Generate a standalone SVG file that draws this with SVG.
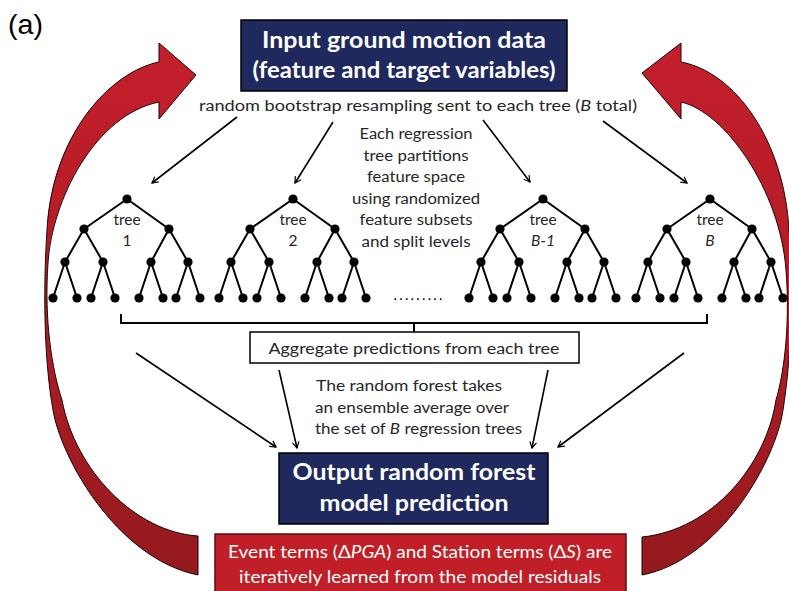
<svg xmlns="http://www.w3.org/2000/svg" width="789" height="591" viewBox="0 0 789 591">
<defs>
<style>
.box-navy{fill:#1f295d;stroke:#000;stroke-width:1.5}
.box-white{fill:#fff;stroke:#000;stroke-width:1.5}
.box-red{fill:#c01f28;stroke:#5a0d10;stroke-width:1.5}
.t-title{font-family:Lato,"Open Sans",sans-serif;font-weight:bold;font-size:22px;fill:#fff;text-anchor:middle}
.t-body{font-family:Lato,"Open Sans",sans-serif;font-size:15.5px;fill:#262626;text-anchor:middle}
.t-red{font-family:Lato,"Open Sans",sans-serif;font-size:17px;fill:#fff;text-anchor:start}
.edge{stroke:#000;stroke-width:2;fill:none}
.node{fill:#000}
.conn{stroke:#000;stroke-width:1.6;fill:none;marker-end:url(#arr)}
.brk{stroke:#000;stroke-width:2;fill:none}
.block{fill:url(#redgrad);stroke:#1a0506;stroke-width:1}
</style>
<marker id="arr" viewBox="0 0 12 12" refX="10" refY="6" markerWidth="8" markerHeight="8" markerUnits="userSpaceOnUse" orient="auto">
<path d="M1,1 L10,6 L1,11" fill="none" stroke="#000" stroke-width="1.8"/>
</marker>
<linearGradient id="redgrad" gradientUnits="userSpaceOnUse" x1="0" y1="40" x2="0" y2="580">
<stop offset="0" stop-color="#c41f2c"/>
<stop offset="0.5" stop-color="#b01c25"/>
<stop offset="1" stop-color="#941a1e"/>
</linearGradient>
<g id="tree-shape">
<path class="edge" d="M0,0 L-43,30 M0,0 L42,30 M-43,30 L-62,63 M-43,30 L-24,63 M42,30 L24,63 M42,30 L61,63 M-62,63 L-74,99 M-62,63 L-50,99 M-24,63 L-36,99 M-24,63 L-12,99 M24,63 L12,99 M24,63 L36,99 M61,63 L49,99 M61,63 L73,99"/>
<circle class="node" cx="0" cy="0" r="4.6"/>
<circle class="node" cx="-43" cy="30" r="4.6"/>
<circle class="node" cx="42" cy="30" r="4.6"/>
<circle class="node" cx="-62" cy="63" r="4.6"/>
<circle class="node" cx="-24" cy="63" r="4.6"/>
<circle class="node" cx="24" cy="63" r="4.6"/>
<circle class="node" cx="61" cy="63" r="4.6"/>
<circle class="node" cx="-74" cy="99" r="4.6"/>
<circle class="node" cx="-50" cy="99" r="4.6"/>
<circle class="node" cx="-36" cy="99" r="4.6"/>
<circle class="node" cx="-12" cy="99" r="4.6"/>
<circle class="node" cx="12" cy="99" r="4.6"/>
<circle class="node" cx="36" cy="99" r="4.6"/>
<circle class="node" cx="49" cy="99" r="4.6"/>
<circle class="node" cx="73" cy="99" r="4.6"/>
</g>
</defs>
<rect width="789" height="591" fill="#fff"/>

<text x="8" y="34" font-family="Liberation Sans,Arial,sans-serif" font-size="27" fill="#000" textLength="35" lengthAdjust="spacingAndGlyphs">(a)</text>

<g id="connectors">
<path id="feedback-left" class="block" d="M198,575 C115,558 60,455 53,410 C44,360 43,290 47,230 C52,135 110,72 159,62 L159,43 L196,75 L159,119 L159,102 C95,115 52,200 48,263 C44,320 52,370 62,400 C75,470 135,532 198,536 Z"/>
<path id="feedback-right" class="block" d="M642,575 C720,560 776,460 783,410 C791,360 794,290 789,230 C784,140 735,72 681,62 L681,43 L642,73 L681,119 L681,102 C725,112 780,190 786,270 C790,320 785,370 776,400 C766,465 712,530 642,537 Z"/>
<line class="conn" x1="237" y1="117" x2="152" y2="183"/>
<line class="conn" x1="333" y1="122" x2="295" y2="183"/>
<line class="conn" x1="483" y1="120" x2="530" y2="182"/>
<line class="conn" x1="603" y1="121" x2="687" y2="183"/>
<path class="brk" d="M121,314 L121,323 L707,323 L707,314 M414,323 L414,332"/>
<line class="conn" x1="136" y1="353" x2="276" y2="447"/>
<line class="conn" x1="279" y1="370" x2="297" y2="448"/>
<line class="conn" x1="548" y1="370" x2="532" y2="448"/>
<line class="conn" x1="684" y1="353" x2="558" y2="447"/>
</g>

<g id="input-data">
<rect class="box-navy" x="241" y="20" width="326" height="71"/>
<text class="t-title" x="404" y="48" textLength="284" lengthAdjust="spacingAndGlyphs">Input ground motion data</text>
<text class="t-title" x="404" y="78" textLength="303" lengthAdjust="spacingAndGlyphs">(feature and target variables)</text>
</g>

<g id="bootstrap-label">
<text class="t-body" x="418" y="111" textLength="438" lengthAdjust="spacingAndGlyphs">random bootstrap resampling sent to each tree (<tspan font-style="italic">B</tspan> total)</text>
</g>

<g id="tree-description">
<text class="t-body" x="416" y="139" textLength="113" lengthAdjust="spacingAndGlyphs">Each regression</text>
<text class="t-body" x="416" y="161" textLength="105" lengthAdjust="spacingAndGlyphs">tree partitions</text>
<text class="t-body" x="416" y="182" textLength="98" lengthAdjust="spacingAndGlyphs">feature space</text>
<text class="t-body" x="416" y="204" textLength="128" lengthAdjust="spacingAndGlyphs">using randomized</text>
<text class="t-body" x="416" y="225" textLength="113" lengthAdjust="spacingAndGlyphs">feature subsets</text>
<text class="t-body" x="416" y="247" textLength="109" lengthAdjust="spacingAndGlyphs">and split levels</text>
</g>

<g id="tree-1">
<use href="#tree-shape" x="127" y="199"/>
<text class="t-body" x="127" y="225">tree</text>
<text class="t-body" x="127" y="246">1</text>
</g>
<g id="tree-2">
<use href="#tree-shape" x="293" y="199"/>
<text class="t-body" x="293" y="225">tree</text>
<text class="t-body" x="293" y="246">2</text>
</g>
<g id="ellipsis">
<text x="393" y="300" font-family="Liberation Sans,Arial,sans-serif" font-size="16" fill="#000" textLength="50" lengthAdjust="spacing">.........</text>
</g>
<g id="tree-B-1">
<use href="#tree-shape" x="543" y="199"/>
<text class="t-body" x="543" y="225">tree</text>
<text class="t-body" x="543" y="246" font-style="italic">B-1</text>
</g>
<g id="tree-B">
<use href="#tree-shape" x="710" y="199"/>
<text class="t-body" x="710" y="225">tree</text>
<text class="t-body" x="710" y="246" font-style="italic">B</text>
</g>

<g id="aggregate">
<rect class="box-white" x="250" y="332" width="329" height="31"/>
<text class="t-body" x="414" y="354" font-size="16" textLength="291" lengthAdjust="spacingAndGlyphs">Aggregate predictions from each tree</text>
</g>

<g id="ensemble-label">
<text class="t-body" x="316" y="391" style="text-anchor:start" textLength="186" lengthAdjust="spacingAndGlyphs">The random  forest takes</text>
<text class="t-body" x="315" y="413" style="text-anchor:start" textLength="194" lengthAdjust="spacingAndGlyphs">an ensemble average over</text>
<text class="t-body" x="315" y="434" style="text-anchor:start" textLength="207" lengthAdjust="spacingAndGlyphs">the set of <tspan font-style="italic">B</tspan> regression trees</text>
</g>

<g id="output">
<rect class="box-navy" x="279" y="453" width="269" height="71"/>
<text class="t-title" x="414" y="480" font-size="23" textLength="243" lengthAdjust="spacingAndGlyphs">Output random forest</text>
<text class="t-title" x="414" y="511" font-size="23" textLength="189" lengthAdjust="spacingAndGlyphs">model prediction</text>
</g>

<g id="residual-terms">
<rect class="box-red" x="215" y="534" width="411" height="70"/>
<text class="t-red" x="228" y="558" textLength="384" lengthAdjust="spacingAndGlyphs">Event terms (Δ<tspan font-style="italic">PGA</tspan>) and Station terms (Δ<tspan font-style="italic">S</tspan>) are</text>
<text class="t-red" x="239" y="583" textLength="362" lengthAdjust="spacingAndGlyphs">iteratively learned from the model residuals</text>
</g>
</svg>
